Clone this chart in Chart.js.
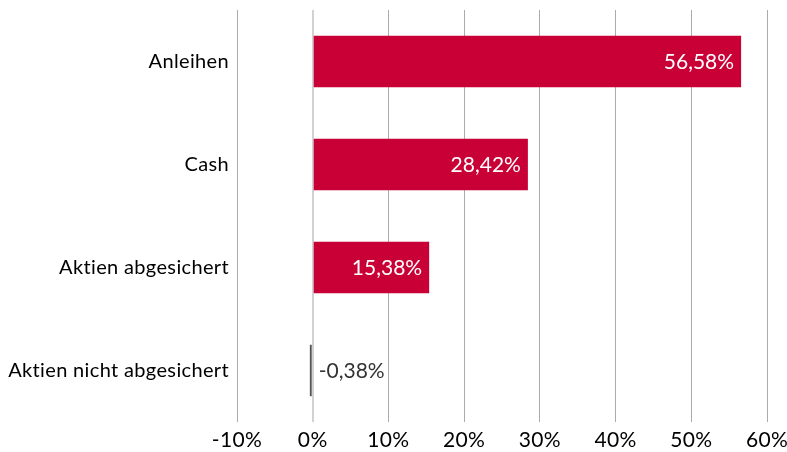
<!DOCTYPE html>
<html><head><meta charset="utf-8">
<script src="https://cdn.jsdelivr.net/npm/chart.js@4/dist/chart.umd.min.js"></script>
<style>html,body{margin:0;padding:0;background:#fff}#wrap{width:787px;height:452px}</style>
</head><body><div id="wrap"><canvas id="c" width="787" height="452"></canvas></div>
<script>
const categories = ["Anleihen", "Cash", "Aktien abgesichert", "Aktien nicht abgesichert"];
const values = [56.58, 28.42, 15.38, -0.38];
const tickValues = [-10, 0, 10, 20, 30, 40, 50, 60];
const posColor = "#C90035";
const negColor = "#555555";

const fmt = v => v.toFixed(2).replace(".", ",") + "%";

const spacingPlugin = {
  id: "spacing",
  beforeDraw(chart) { chart.ctx.letterSpacing = "0.35px"; }
};

const labelPlugin = {
  id: "valueLabels",
  afterDatasetsDraw(chart) {
    const ctx = chart.ctx;
    const meta = chart.getDatasetMeta(0);
    ctx.save();
    ctx.letterSpacing = "0px";
    ctx.font = "21px Lato";
    ctx.textBaseline = "middle";
    meta.data.forEach((bar, i) => {
      const v = values[i];
      if (v >= 0) {
        ctx.fillStyle = "#ffffff";
        ctx.textAlign = "right";
        ctx.fillText(fmt(v), bar.x - 7, bar.y + 1);
      } else {
        ctx.fillStyle = "#333333";
        ctx.textAlign = "left";
        ctx.fillText(fmt(v), bar.base + 7, bar.y + 1);
      }
    });
    ctx.restore();
  }
};

new Chart(document.getElementById("c"), {
  type: "bar",
  data: {
    labels: categories,
    datasets: [{
      data: values,
      backgroundColor: values.map(v => v >= 0 ? posColor : negColor),
      borderWidth: 0,
      barPercentage: 0.5,
      categoryPercentage: 1.0
    }]
  },
  options: {
    indexAxis: "y",
    responsive: false,
    animation: false,
    devicePixelRatio: 1,
    layout: { padding: { top: 10, right: 20, left: 0, bottom: 0 } },
    plugins: { legend: { display: false }, tooltip: { enabled: false } },
    scales: {
      x: {
        min: -10, max: 60,
        afterBuildTicks: s => { s.ticks = tickValues.map(v => ({ value: v })); },
        afterFit: s => { s.height = 30; s.paddingLeft = 0; s.paddingRight = 0; },
        grid: {
          color: c => (c.tick && c.tick.value === 0) ? "#d2d2d2" : "#ababab",
          lineWidth: c => (c.tick && c.tick.value === 0) ? 2 : 1,
          drawTicks: false
        },
        border: { display: false },
        ticks: { color: "#000", font: { family: "Lato", size: 21 }, padding: 6, callback: v => v + "%" }
      },
      y: {
        afterFit: s => { s.width = 237; s.paddingTop = 0; s.paddingBottom = 0; },
        grid: { display: false, drawTicks: false },
        border: { display: false },
        ticks: { color: "#000", font: { family: "Lato", size: 20 }, padding: 8 }
      }
    }
  },
  plugins: [spacingPlugin, labelPlugin]
});
</script>
</body></html>
